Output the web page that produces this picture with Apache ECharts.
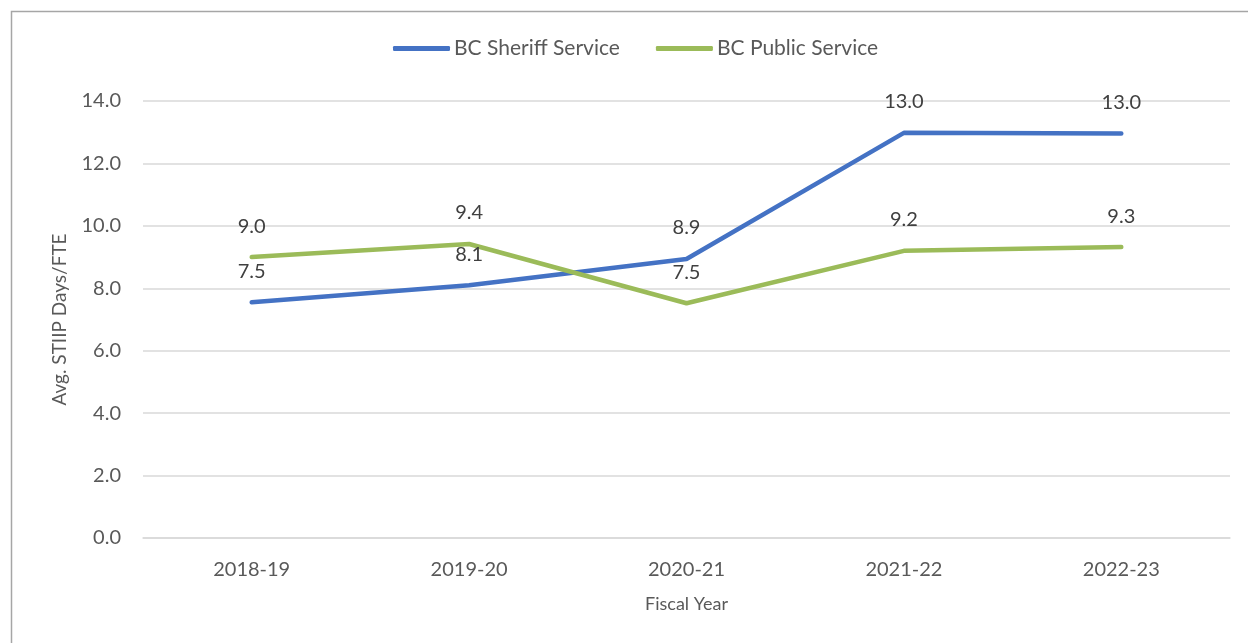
<!DOCTYPE html>
<html><head><meta charset="utf-8">
<script src="https://cdn.jsdelivr.net/npm/echarts@6/dist/echarts.min.js"></script>
<style>html,body{margin:0;padding:0;background:#fff}#c{width:1248px;height:643px}</style>
</head><body><div id="c"></div>
<script>
const categories = ['2018-19','2019-20','2020-21','2021-22','2022-23'];
const sheriff = [7.55, 8.1, 8.94, 12.98, 12.96];
const publicService = [9.0, 9.42, 7.52, 9.2, 9.32];
const seriesNames = ['BC Sheriff Service','BC Public Service'];
const txt = '#595959';
const font = 'Lato, "Liberation Sans", sans-serif';
const chart = echarts.init(document.getElementById('c'));
const lbl = {show:true,position:'top',distance:21,color:'#404040',fontSize:20,fontFamily:font,formatter:p=>p.value.toFixed(1)};
chart.setOption({
  animation:false,
  textStyle:{fontFamily:font},
  graphic:[{type:'rect',shape:{x:11.5,y:11.5,width:1300,height:700},style:{fill:'none',stroke:'#a6a6a6',lineWidth:1.5},silent:true}],
  legend:{top:33,left:388,itemWidth:57,itemHeight:5,itemGap:36,
    icon:'roundRect',
    textStyle:{color:txt,fontSize:21,fontFamily:font,padding:[0,0,0,-1]},
    data:seriesNames},
  grid:{left:143,right:18,top:101,bottom:105,containLabel:false},
  xAxis:{type:'category',data:categories,boundaryGap:true,
    name:'Fiscal Year',nameLocation:'middle',nameGap:57,
    nameTextStyle:{color:txt,fontSize:18,fontFamily:font},
    axisLine:{show:true,lineStyle:{color:'#d9d9d9',width:1.5}},axisTick:{show:false},
    axisLabel:{color:txt,fontSize:20,margin:22,fontFamily:font}},
  yAxis:{type:'value',min:0,max:14,interval:2,
    name:'Avg. STIIP Days/FTE',nameLocation:'middle',nameGap:74,
    nameTextStyle:{color:txt,fontSize:19,fontFamily:font},
    axisLine:{show:false},axisTick:{show:false},
    splitLine:{lineStyle:{color:'#d9d9d9',width:1.5}},
    axisLabel:{color:txt,fontSize:20,margin:22,fontFamily:font,formatter:v=>v.toFixed(1)}},
  series:[
    {name:seriesNames[0],type:'line',data:sheriff,symbol:'circle',symbolSize:0,showSymbol:true,
      lineStyle:{color:'#4472C4',width:4.5,cap:'round'},itemStyle:{color:'#4472C4'},
      label:lbl,labelLayout:{hideOverlap:false}},
    {name:seriesNames[1],type:'line',data:publicService,symbol:'circle',symbolSize:0,showSymbol:true,
      lineStyle:{color:'#9BBB59',width:4.5,cap:'round'},itemStyle:{color:'#9BBB59'},
      label:lbl,labelLayout:{hideOverlap:false}}
  ]
});
</script></body></html>
